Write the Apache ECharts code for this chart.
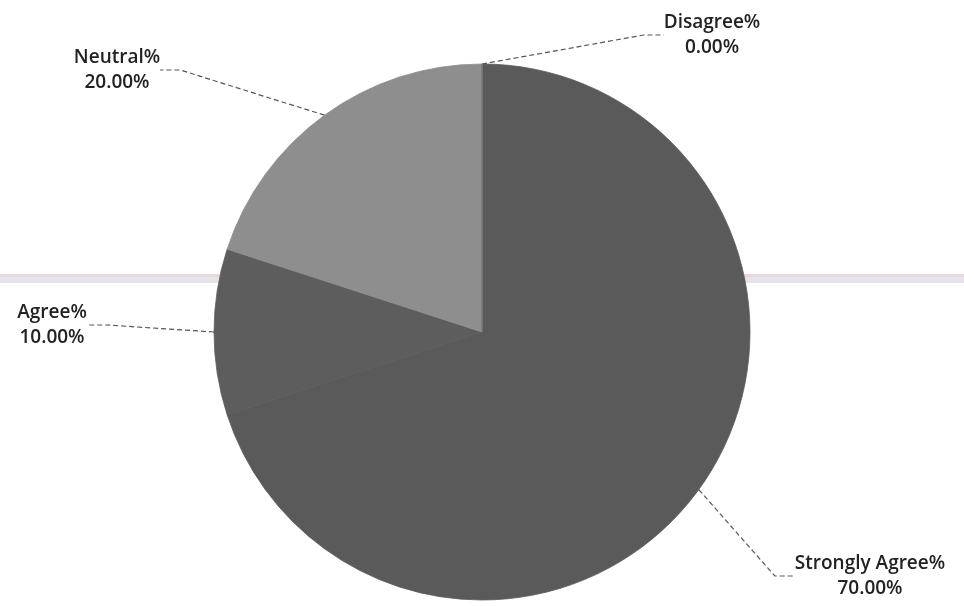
<!DOCTYPE html>
<html>
<head>
<meta charset="utf-8">
<script src="https://cdn.jsdelivr.net/npm/echarts@6/dist/echarts.min.js"></script>
<style>html,body{margin:0;padding:0;background:#fff;}#chart{width:964px;height:607px;}</style>
</head>
<body>
<div id="chart"></div>
<script>
const categories = ['Strongly Agree%', 'Agree%', 'Neutral%', 'Disagree%'];
const values = [70, 10, 20, 0];
const sliceColors = ['#5a5a5a', '#5d5d5d', '#8e8e8e', '#777777'];
// label anchor positions (layout only)
const labelSpots = [[870, 576], [52, 325], [117, 70], [712, 35]];

const chart = echarts.init(document.getElementById('chart'), null, {renderer: 'canvas'});
const data = categories.map((c, i) => ({
  name: c, value: values[i],
  itemStyle: {color: sliceColors[i], borderColor: sliceColors[i], borderWidth: 0.8}
}));

chart.setOption({
  backgroundColor: '#ffffff',
  animation: false,
  graphic: [
    {type: 'rect', z: -1, shape: {x: 0, y: 274, width: 964, height: 3}, style: {fill: '#ecd6dd'}},
    {type: 'rect', z: -1, shape: {x: 0, y: 277, width: 964, height: 6}, style: {fill: '#e6e4e8'}}
  ],
  series: [{
    type: 'pie',
    center: [482, 332],
    radius: 268,
    startAngle: 90,
    clockwise: true,
    minAngle: 0,
    data: data,
    label: {
      show: true,
      position: 'outside',
      fontFamily: 'Open Sans',
      fontSize: 19,
      fontWeight: 600,
      color: '#222',
      lineHeight: 25,
      align: 'center',
      formatter: p => p.name + '\n' + p.value.toFixed(2) + '%'
    },
    labelLine: {
      show: true,
      length: 20,
      length2: 20,
      lineStyle: {color: '#555', width: 1.2, type: [5, 3]}
    },
    labelLayout: function (params) {
      const s = labelSpots[params.dataIndex];
      return {x: s[0], y: s[1], align: 'center', verticalAlign: 'middle', moveOverlap: null, hideOverlap: false};
    },
    emphasis: {disabled: true}
  }]
});
</script>
</body>
</html>
